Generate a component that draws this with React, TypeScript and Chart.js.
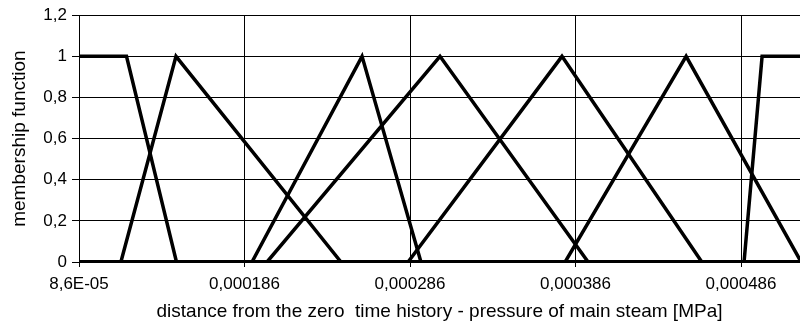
import React, { useEffect, useRef } from "react";
import { Chart, registerables } from "chart.js";

Chart.register(...registerables);

// x values in MPa, y = membership degree
const s1X = [86e-6, 114.7e-6, 144.9e-6, 530e-6];
const s1Y = [1, 1, 0, 0];
const s2X = [86e-6, 111.3e-6, 144.6e-6, 244.3e-6, 530e-6];
const s2Y = [0, 0, 1, 0, 0];
const s3X = [86e-6, 190.5e-6, 257e-6, 292.6e-6, 530e-6];
const s3Y = [0, 0, 1, 0, 0];
const s4X = [86e-6, 199.6e-6, 304.1e-6, 393.6e-6, 530e-6];
const s4Y = [0, 0, 1, 0, 0];
const s5X = [86e-6, 284.8e-6, 377.8e-6, 462.3e-6, 530e-6];
const s5Y = [0, 0, 1, 0, 0];
const s6X = [86e-6, 379.7e-6, 452.8e-6, 522.3e-6, 530e-6];
const s6Y = [0, 0, 1, 0, 0];
const s7X = [86e-6, 487.8e-6, 498.7e-6, 530e-6];
const s7Y = [0, 0, 1, 1];

const xTickValues = [86e-6, 186e-6, 286e-6, 386e-6, 486e-6];
const xTickLabels = ["8,6E-05", "0,000186", "0,000286", "0,000386", "0,000486"];
const xMin = 86e-6;
const xMax = 521.6e-6;

const xTitle = "distance from the zero  time history - pressure of main steam [MPa]";
const yTitle = "membership function";

const seriesX = [s1X, s2X, s3X, s4X, s5X, s6X, s7X];
const seriesY = [s1Y, s2Y, s3Y, s4Y, s5Y, s6Y, s7Y];

const FONT = "'Liberation Sans', Arial, sans-serif";

export default function App() {
  const ref = useRef<HTMLCanvasElement>(null);
  useEffect(() => {
    if (!ref.current) return;
    const datasets = seriesX.map((xs, i) => ({
      label: "s" + (i + 1),
      data: xs.map((x, j) => ({ x, y: seriesY[i][j] })),
      borderColor: "#000",
      backgroundColor: "#000",
      borderWidth: 3.5,
      pointRadius: 0,
      tension: 0,
      fill: false,
    }));
    const chart = new Chart(ref.current, {
      type: "line",
      data: { datasets },
      options: {
        animation: false,
        responsive: false,
        maintainAspectRatio: false,
        layout: { padding: { top: 14, right: 0, left: 0, bottom: 0 } },
        plugins: { legend: { display: false }, tooltip: { enabled: false } },
        scales: {
          x: {
            type: "linear",
            min: xMin,
            max: xMax,
            afterBuildTicks: (scale: any) => {
              scale.ticks = xTickValues.map((v) => ({ value: v }));
            },
            afterFit: (scale: any) => {
              scale.height = 64;
            },
            ticks: {
              autoSkip: false,
              maxRotation: 0,
              minRotation: 0,
              padding: 7,
              color: "#000",
              font: { family: FONT, size: 17 },
              callback: (_v: any, i: number) => xTickLabels[i],
            },
            grid: { color: "#000", lineWidth: 1, tickLength: 5, drawOnChartArea: true },
            border: { color: "#000", width: 1 },
            title: {
              display: true,
              text: xTitle,
              color: "#000",
              font: { family: FONT, size: 19 },
              padding: { top: 0, bottom: 3 },
            },
          },
          y: {
            min: 0,
            max: 1.2,
            afterFit: (scale: any) => {
              scale.width = 79;
            },
            ticks: {
              stepSize: 0.2,
              padding: 5,
              color: "#000",
              font: { family: FONT, size: 17 },
              callback: (v: any) => {
                const n = Math.round(Number(v) * 10) / 10;
                return String(n).replace(".", ",");
              },
            },
            grid: { color: "#000", lineWidth: 1, tickLength: 7 },
            border: { color: "#000", width: 1 },
            title: {
              display: true,
              text: yTitle,
              color: "#000",
              font: { family: FONT, size: 19 },
              padding: { top: 8, bottom: 0 },
            },
          },
        },
      },
    });
    return () => chart.destroy();
  }, []);
  return (
    <div style={{ position: "absolute", left: 0, top: 0, width: 800, height: 326, background: "#fff" }}>
      <canvas ref={ref} width={800} height={326} style={{ display: "block" }} />
    </div>
  );
}
